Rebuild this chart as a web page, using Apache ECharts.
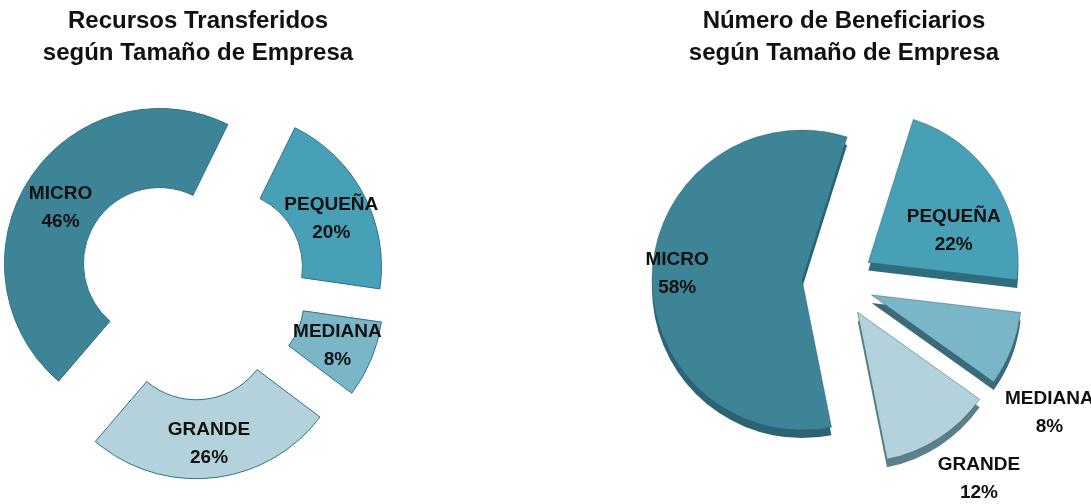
<!DOCTYPE html>
<html>
<head>
<meta charset="utf-8">
<script src="https://cdn.jsdelivr.net/npm/echarts@6/dist/echarts.min.js"></script>
<style>
  html, body { margin: 0; padding: 0; background: #fff; }
  #main { width: 1091px; height: 504px; }
</style>
</head>
<body>
<div id="main"></div>
<script>
// datos
var categorias = ['MICRO', 'PEQUEÑA', 'MEDIANA', 'GRANDE'];
var recursos = [46, 20, 8, 26];        // % recursos transferidos
var beneficiarios = [58, 22, 8, 12];   // % numero de beneficiarios
var colores = ['#3E8497', '#48A0B6', '#7AB6C7', '#B3D2DC'];
var coloresLado = ['#2C6474', '#2F6D7D', '#3B6B78', '#5C7F89'];   // canto del pastel 3D

var fuente = "'Liberation Sans Narrow', 'Liberation Sans', Arial, sans-serif";

function armarDatos(valores, paleta) {
    var out = [];
    for (var i = 0; i < categorias.length; i++) {
        out.push({ name: categorias[i], value: valores[i], selected: true,
                   itemStyle: { color: paleta[i] } });
    }
    return out;
}

var myChart = echarts.init(document.getElementById('main'));

// ajustes finos de etiquetas (micro, pequeña, mediana, grande)
var ajusteIzq = [{ dy: 9 }, { dy: 7 }, { dy: 0 }, { dy: 2 }];
var ajusteDer = [{ dx: -47, dy: -2 }, { dx: 20, dy: 11 }, { dx: 105, dy: 90 }, { dx: 79, dy: 101 }];

var etiqueta = {
    show: true,
    position: 'inside',
    formatter: '{b}\n{c}%',
    color: '#111',
    fontFamily: fuente,
    fontWeight: 'bold',
    fontSize: 19,
    lineHeight: 28
};

var titulo = { fontFamily: fuente, fontWeight: 'bold', fontSize: 24, lineHeight: 32, color: '#111' };

var option = {
    animation: false,
    title: [
        { text: 'Recursos Transferidos\nsegún Tamaño de Empresa', left: 193, top: 0, textAlign: 'center', textStyle: titulo },
        { text: 'Número de Beneficiarios\nsegún Tamaño de Empresa', left: 839, top: 0, textAlign: 'center', textStyle: titulo }
    ],
    series: [
        {
            name: 'Recursos',
            type: 'pie',
            center: [192, 285],
            radius: [76, 155],
            startAngle: 229.4,
            selectedMode: 'multiple',
            selectedOffset: 39,
            silent: true,
            itemStyle: { borderColor: '#2F7285', borderWidth: 1 },
            select: { itemStyle: { borderColor: '#2F7285', borderWidth: 1 } },
            emphasis: { disabled: true },
            label: etiqueta,
            labelLine: { show: false },
            labelLayout: function (p) { return ajusteIzq[p.dataIndex]; },
            data: armarDatos(recursos, colores)
        },
        {
            // canto (profundidad) del pastel derecho
            name: 'BeneficiariosCanto',
            type: 'pie',
            center: [838, 290],
            radius: [0, 150],
            startAngle: 281.3,
            selectedMode: 'multiple',
            selectedOffset: 36,
            silent: true,
            itemStyle: { borderWidth: 0 },
            select: { itemStyle: { borderWidth: 0 } },
            emphasis: { disabled: true },
            label: { show: false },
            labelLine: { show: false },
            data: armarDatos(beneficiarios, coloresLado)
        },
        {
            name: 'Beneficiarios',
            type: 'pie',
            center: [838, 282],
            radius: [0, 150],
            startAngle: 281.3,
            selectedMode: 'multiple',
            selectedOffset: 36,
            silent: true,
            itemStyle: { borderColor: 'rgba(40,95,110,0.5)', borderWidth: 1 },
            select: { itemStyle: { borderColor: 'rgba(40,95,110,0.5)', borderWidth: 1 } },
            emphasis: { disabled: true },
            label: etiqueta,
            labelLine: { show: false },
            labelLayout: function (p) { return ajusteDer[p.dataIndex]; },
            data: armarDatos(beneficiarios, colores)
        }
    ]
};

myChart.setOption(option);
</script>
</body>
</html>
